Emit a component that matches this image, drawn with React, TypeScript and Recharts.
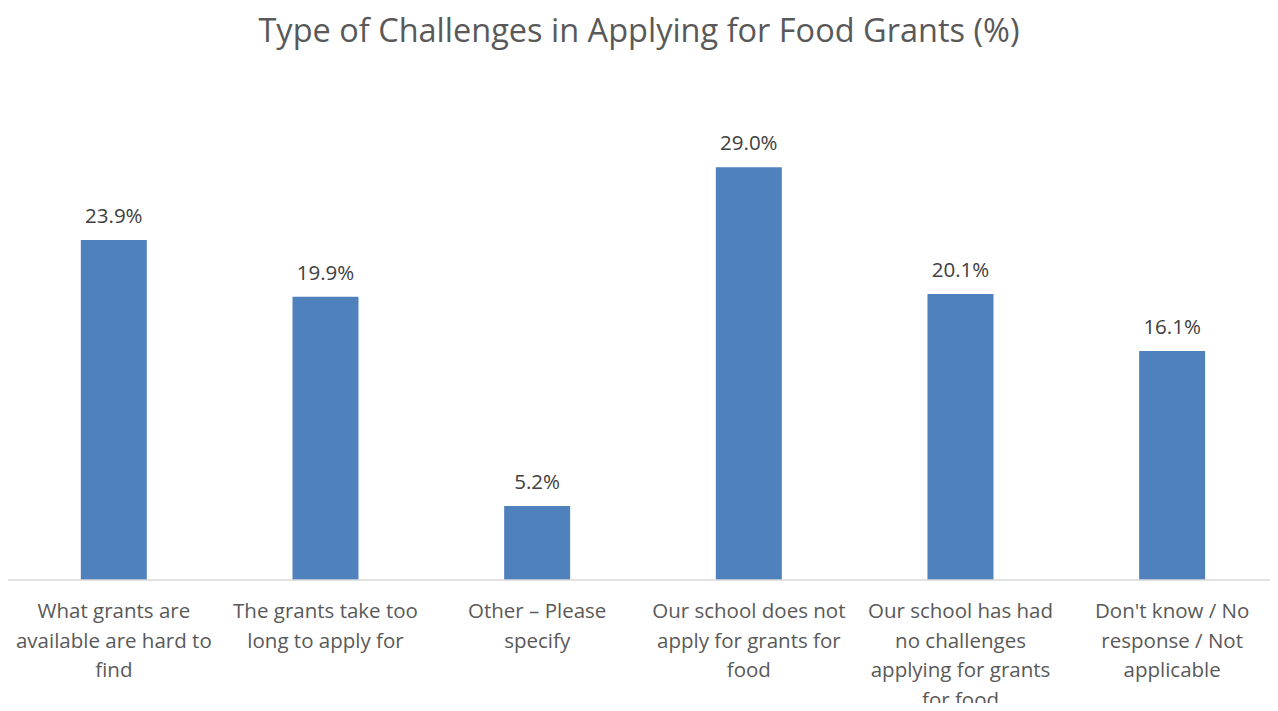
import React from 'react';
import { BarChart, Bar, XAxis, YAxis, LabelList } from 'recharts';

const categories = [
  'What grants are\navailable are hard to\nfind',
  'The grants take too\nlong to apply for',
  'Other – Please\nspecify',
  'Our school does not\napply for grants for\nfood',
  'Our school has had\nno challenges\napplying for grants\nfor food',
  "Don't know / No\nresponse / Not\napplicable",
];
const percents = [23.9, 19.9, 5.2, 29.0, 20.1, 16.1];

const data = categories.map((name, i) => ({ name, value: percents[i] }));

const FONT = '"Open Sans", Lato, sans-serif';

const WrappedTick = (props: any) => {
  const { x, y, payload } = props;
  const lines: string[] = String(payload.value).split('\n');
  return (
    <g transform={`translate(${x},${y})`}>
      {lines.map((line, i) => (
        <text
          key={i}
          x={0}
          y={30 + i * 29.5}
          textAnchor="middle"
          fill="#595959"
          fontSize={20.5}
          fontFamily={FONT}
        >
          {line}
        </text>
      ))}
    </g>
  );
};

export default function App() {
  return (
    <div style={{ margin: -8, width: 1278, height: 711, background: '#fff', position: 'relative' }}>
      <div
        style={{
          position: 'absolute',
          top: 7,
          left: 0,
          width: 1278,
          textAlign: 'center',
          fontFamily: FONT,
          fontSize: 32.5,
          color: '#595959',
        }}
      >
        Type of Challenges in Applying for Food Grants (%)
      </div>
      <BarChart
        width={1278}
        height={711}
        data={data}
        margin={{ top: 82, right: 0, left: 8, bottom: 0 }}
        barCategoryGap="34.4%"
      >
        <XAxis
          dataKey="name"
          interval={0}
          height={131}
          tickLine={false}
          axisLine={{ stroke: '#d9d9d9', strokeWidth: 1.5 }}
          tick={<WrappedTick />}
        />
        <YAxis hide domain={[0, 35]} />
        <Bar dataKey="value" fill="#4f81bd" isAnimationActive={false}>
          <LabelList
            dataKey="value"
            position="top"
            offset={17}
            formatter={(v: any) => `${Number(v).toFixed(1)}%`}
            style={{ fill: '#404040', fontSize: 20.5, fontFamily: FONT }}
          />
        </Bar>
      </BarChart>
    </div>
  );
}
